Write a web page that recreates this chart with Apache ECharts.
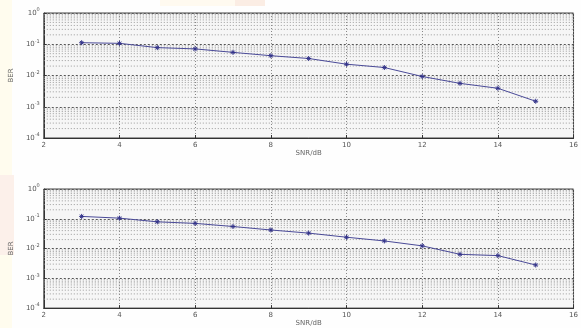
<!DOCTYPE html>
<html><head><meta charset="utf-8">
<script src="https://cdn.jsdelivr.net/npm/echarts@6/dist/echarts.min.js"></script>
<style>html,body{margin:0;padding:0;background:#fff}#c{width:581px;height:328px}</style>
</head><body><div id="c"></div>
<script>
const snr = [3,4,5,6,7,8,9,10,11,12,13,14,15];
const berTop = [0.112,0.107,0.078,0.071,0.055,0.043,0.035,0.023,0.018,0.0093,0.0056,0.0039,0.0015];
const berBottom = [0.12,0.105,0.079,0.07,0.055,0.042,0.033,0.024,0.018,0.0123,0.0064,0.0058,0.0028];
const xTicks = [2,4,6,8,10,12,14,16];
const minorMultipliers = [2,3,4,5,6,7,8,9];
const decades = [1e-4,1e-3,1e-2,1e-1];

const minorVals = [];
decades.forEach(d => minorMultipliers.forEach(m => minorVals.push(d*m)));

const chart = echarts.init(document.getElementById('c'), null, {renderer:'canvas'});
const txt = '#555';
function yFmt(v){
  const e = Math.round(Math.log10(v));
  return '{b|10}{s|' + e + '}';
}
function xAxisCfg(idx, name){
  return {
    type:'value', gridIndex:idx, min:2, max:16, interval:2,
    name:name, nameLocation:'middle', nameGap:10,
    nameTextStyle:{color:'#666', fontSize:7, fontFamily:'DejaVu Sans'},
    axisLine:{show:true, onZero:false, lineStyle:{color:'#333', width:1}},
    axisTick:{show:true, inside:true, length:3, lineStyle:{color:'#333'}},
    axisLabel:{color:txt, fontSize:7, margin:4, fontFamily:'DejaVu Sans',
      formatter: v => xTicks.includes(v) ? String(v) : ''},
    splitLine:{show:true, lineStyle:{color:'#888', type:[1,2], width:1}}
  };
}
function yAxisCfg(idx){
  return {
    type:'log', gridIndex:idx, logBase:10, min:1e-4, max:1,
    name:'BER', nameLocation:'middle', nameGap:17, nameRotate:90,
    nameTextStyle:{color:'#666', fontSize:7, fontFamily:'DejaVu Sans'},
    axisLine:{show:true, lineStyle:{color:'#333', width:1}},
    axisTick:{show:true, inside:true, length:3, lineStyle:{color:'#333'}},
    axisLabel:{formatter:yFmt, margin:4, rich:{
      b:{color:txt, fontSize:7, fontFamily:'DejaVu Sans'},
      s:{color:txt, fontSize:5, fontFamily:'DejaVu Sans', verticalAlign:'top', padding:[0,0,6,0]}
    }},
    splitLine:{show:true, lineStyle:{color:'#555', type:[2,2], width:1}}
  };
}
const asterisk = 'path://M4,0L4,8M0,4L8,4M1.2,1.2L6.8,6.8M6.8,1.2L1.2,6.8';
function dataSeries(idx, vals){
  return {
    type:'line', xAxisIndex:idx, yAxisIndex:idx,
    data: snr.map((x,i)=>[x, vals[i]]),
    lineStyle:{color:'#4a4a98', width:1},
    symbol: asterisk, symbolSize:5, showSymbol:true,
    itemStyle:{color:'rgba(0,0,0,0)', borderColor:'#34348a', borderWidth:1},
    z:5, animation:false
  };
}
function minorSeriesList(idx){
  return minorVals.map(v => ({
    type:'line', xAxisIndex:idx, yAxisIndex:idx, silent:true, animation:false, z:1,
    data:[[2,v],[16,v]], symbol:'none',
    lineStyle:{color:'#9a9a9a', type:[1,2], width:1},
    emphasis:{disabled:true}
  }));
}
chart.setOption({
  backgroundColor:'#fefefe',
  animation:false,
  graphic:[
    {type:'rect', shape:{x:0,y:0,width:12,height:328}, style:{fill:'#fffcee'}, z:-10, silent:true},
    {type:'rect', shape:{x:160,y:0,width:80,height:6}, style:{fill:'#fffaf0'}, z:-10, silent:true},
    {type:'rect', shape:{x:235,y:0,width:30,height:6}, style:{fill:'#fbede4'}, z:-10, silent:true},
    {type:'rect', shape:{x:0,y:175,width:14,height:80}, style:{fill:'#fcf0ea'}, z:-10, silent:true}
  ],
  grid:[
    {left:38, top:13, width:540, height:125, show:true, backgroundColor:'#f6f6f6', borderColor:'#444', borderWidth:1},
    {left:38, top:189, width:540, height:127, show:true, backgroundColor:'#f6f6f6', borderColor:'#444', borderWidth:1}
  ],
  xAxis:[xAxisCfg(0,'SNR/dB'), xAxisCfg(1,'SNR/dB')],
  yAxis:[yAxisCfg(0), yAxisCfg(1)],
  series:[].concat(minorSeriesList(0), minorSeriesList(1), [dataSeries(0, berTop), dataSeries(1, berBottom)])
});
</script></body></html>
